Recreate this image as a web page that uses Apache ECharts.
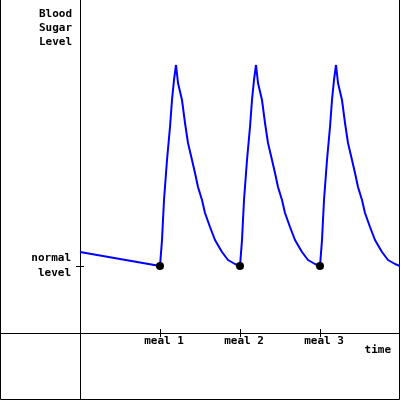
<!DOCTYPE html>
<html>
<head>
<meta charset="utf-8">
<script src="https://cdn.jsdelivr.net/npm/echarts@6/dist/echarts.min.js"></script>
<style>html,body{margin:0;padding:0;background:#fff}#c{width:400px;height:400px}</style>
</head>
<body>
<div id="c"></div>
<script>
// time axis: 0 = start of chart, meals at 80, 160, 240
const timeValues = [
  0, 80, 82, 84, 87, 90, 92, 94, 96, 98, 102, 105, 108, 112, 115, 118, 122, 125, 130, 135, 142, 148, 155, 160,
  162, 164, 167, 170, 172, 174, 176, 178, 182, 185, 188, 192, 195, 198, 202, 205, 210, 215, 222, 228, 235, 240,
  242, 244, 247, 250, 252, 254, 256, 258, 262, 265, 268, 272, 275, 278, 282, 285, 290, 295, 302, 308, 315, 320
];
const levelValues = [
  81, 67, 93, 133, 173, 206, 233, 253, 268, 250, 233, 210, 190, 173, 160, 146, 133, 120, 106, 93, 81, 73, 69, 67,
  93, 133, 173, 206, 233, 253, 268, 250, 233, 210, 190, 173, 160, 146, 133, 120, 106, 93, 81, 73, 69, 67,
  93, 133, 173, 206, 233, 253, 268, 250, 233, 210, 190, 173, 160, 146, 133, 120, 106, 93, 81, 73, 69, 67
];
const mealTimes = [80, 160, 240];
const mealLabels = ['meal 1', 'meal 2', 'meal 3'];
const mealLevels = [67, 67, 67];
const normalLevel = [67];
const normalLabel = 'normal\nlevel';
const yTitle = 'Blood\nSugar\nLevel';
const xTitle = 'time';

const FONT = 'DejaVu Sans Mono';
const curve = timeValues.map((t, i) => [t, levelValues[i]]);
const dots = mealTimes.map((t, i) => [t, mealLevels[i]]);

const chart = echarts.init(document.getElementById('c'), null, {renderer: 'canvas'});
const labelFont = {fontFamily: FONT, fontSize: 11, fontWeight: 'bold', color: '#000'};
chart.setOption({
  animation: false,
  backgroundColor: '#fff',
  title: [
    {text: yTitle, right: 328, top: 7, padding: 0,
     textStyle: Object.assign({}, labelFont, {lineHeight: 14, align: 'right'})},
    {text: xTitle, right: 9, top: 345, padding: 0, textStyle: labelFont}
  ],
  grid: [
    // full canvas: axis lines crossing at the origin
    {left: 0, right: 0, top: 0, bottom: 0, containLabel: false, outerBoundsMode: 'none'},
    // plot area: tick labels
    {left: 80, right: 0, top: 0, bottom: 67, containLabel: false, outerBoundsMode: 'none'}
  ],
  xAxis: [
    {gridIndex: 0, type: 'value', min: -80, max: 320, splitLine: {show: false}, position: 'bottom',
      axisLine: {onZero: true, lineStyle: {color: '#000', width: 1}},
      axisTick: {show: true, inside: false, length: 4, customValues: mealTimes, lineStyle: {color: '#000'}},
      axisLabel: {show: false}},
    {gridIndex: 0, type: 'value', min: -80, max: 320, splitLine: {show: false}, position: 'bottom',
      axisLine: {show: false, onZero: true},
      axisTick: {show: true, inside: true, length: 4, customValues: mealTimes, lineStyle: {color: '#000'}},
      axisLabel: {show: false}},
    {gridIndex: 1, type: 'value', min: 0, max: 320, splitLine: {show: false}, position: 'bottom',
      axisLine: {show: false, onZero: false}, axisTick: {show: false},
      axisLabel: Object.assign({show: true, customValues: mealTimes, margin: 3, padding: [0, 0, 0, 8],
        formatter: v => mealLabels[mealTimes.indexOf(v)] || ''}, labelFont)}
  ],
  yAxis: [
    {gridIndex: 0, type: 'value', min: -67, max: 333, splitLine: {show: false}, position: 'left',
      axisLine: {onZero: true, lineStyle: {color: '#000', width: 1}},
      axisTick: {show: true, inside: false, length: 4, customValues: normalLevel, lineStyle: {color: '#000'}},
      axisLabel: {show: false}},
    {gridIndex: 0, type: 'value', min: -67, max: 333, splitLine: {show: false}, position: 'left',
      axisLine: {show: false, onZero: true},
      axisTick: {show: true, inside: true, length: 4, customValues: normalLevel, lineStyle: {color: '#000'}},
      axisLabel: {show: false}},
    {gridIndex: 1, type: 'value', min: 0, max: 333, splitLine: {show: false}, position: 'left',
      axisLine: {show: false, onZero: false}, axisTick: {show: false},
      axisLabel: Object.assign({show: true, customValues: normalLevel, margin: 9, lineHeight: 15, align: 'right',
        padding: [4, 0, 0, 0],
        formatter: () => normalLabel}, labelFont)}
  ],
  graphic: [{
    type: 'polyline', silent: true,
    shape: {points: [[0.5, 0], [0.5, 399.5], [399.5, 399.5], [399.5, 0]]},
    style: {stroke: '#000', lineWidth: 1, fill: null}
  }],
  series: [
    {type: 'line', xAxisIndex: 0, yAxisIndex: 0, data: curve, showSymbol: false, smooth: false,
     lineStyle: {color: '#0000ff', width: 2}, itemStyle: {color: '#0000ff'}, z: 2},
    {type: 'scatter', xAxisIndex: 0, yAxisIndex: 0, data: dots, symbol: 'circle', symbolSize: 8,
     itemStyle: {color: '#000', opacity: 1}, z: 3}
  ]
});
</script>
</body>
</html>
